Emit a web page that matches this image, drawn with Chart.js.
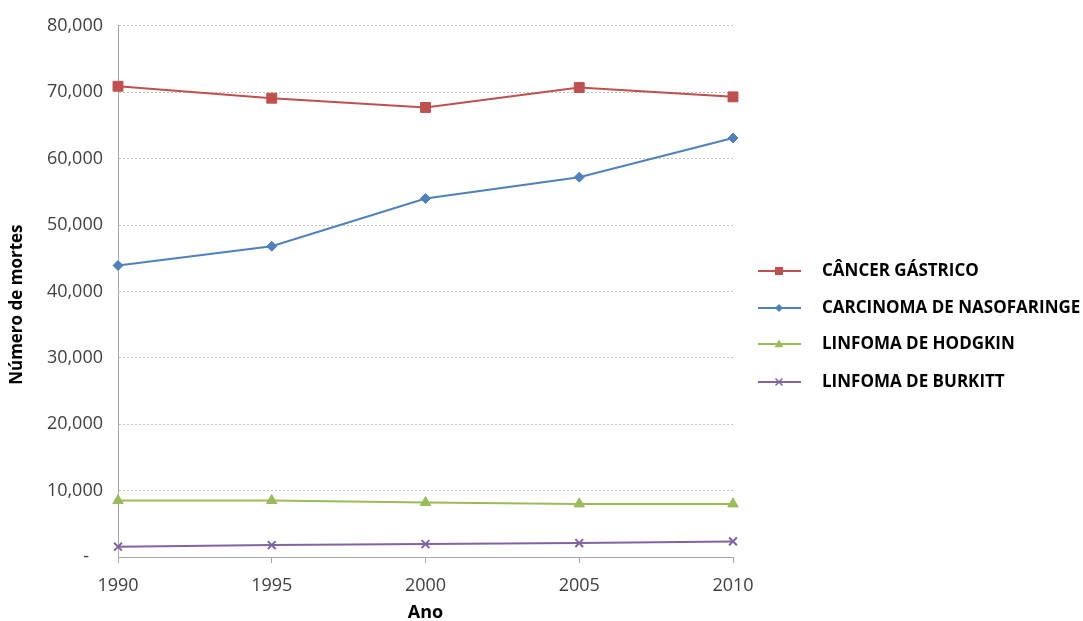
<!DOCTYPE html>
<html>
<head>
<meta charset="utf-8">
<script src="https://cdn.jsdelivr.net/npm/chart.js@4/dist/chart.umd.min.js"></script>
<style>
  html, body { margin: 0; padding: 0; background: #ffffff; }
  #wrap { width: 1083px; height: 621px; position: relative; }
</style>
</head>
<body>
<div id="wrap"><canvas id="chart" width="1083" height="621"></canvas></div>
<script>
// Anos (eixo X)
const anos = ['1990', '1995', '2000', '2005', '2010'];

// Número de mortes por tipo de câncer
const cancerGastrico = [70900, 69100, 67700, 70700, 69300];
const carcinomaNasofaringe = [43900, 46800, 54000, 57200, 63100];
const linfomaHodgkin = [8500, 8500, 8200, 8000, 8000];
const linfomaBurkitt = [1550, 1800, 1950, 2100, 2350];

// Nomes das séries
const nomesSeries = [
  'CÂNCER GÁSTRICO',
  'CARCINOMA DE NASOFARINGE',
  'LINFOMA DE HODGKIN',
  'LINFOMA DE BURKITT'
];

const FONT = '"Open Sans", "DejaVu Sans", sans-serif';

const estilos = [
  { color: '#C0504D', pointStyle: 'rect', radius: 7 },
  { color: '#4F81BD', pointStyle: 'rectRot', radius: 5 },
  { color: '#9BBB59', pointStyle: 'triangle', radius: 6 },
  { color: '#8064A2', pointStyle: 'crossRot', radius: 5.5 }
];

const valores = [cancerGastrico, carcinomaNasofaringe, linfomaHodgkin, linfomaBurkitt];

const datasets = valores.map((v, i) => ({
  label: nomesSeries[i],
  data: v,
  borderColor: estilos[i].color,
  backgroundColor: estilos[i].color,
  borderWidth: 2,
  pointStyle: estilos[i].pointStyle,
  pointRadius: estilos[i].radius,
  pointBorderWidth: estilos[i].pointStyle === 'crossRot' ? 2 : 1,
  pointBorderColor: estilos[i].color,
  pointBackgroundColor: estilos[i].color,
  tension: 0,
  fill: false
}));

// Legenda desenhada à direita: linha com marcador + texto
function desenharMarcador(ctx, estilo, x, y) {
  ctx.save();
  ctx.fillStyle = estilo.color;
  ctx.strokeStyle = estilo.color;
  ctx.lineWidth = 1;
  ctx.beginPath();
  if (estilo.pointStyle === 'rect') {
    const s = 8;
    ctx.rect(x - s / 2, y - s / 2, s, s);
    ctx.fill();
  } else if (estilo.pointStyle === 'rectRot') {
    const s = 4;
    ctx.moveTo(x, y - s); ctx.lineTo(x + s, y); ctx.lineTo(x, y + s); ctx.lineTo(x - s, y);
    ctx.closePath(); ctx.fill();
  } else if (estilo.pointStyle === 'triangle') {
    const s = 4.5;
    ctx.moveTo(x, y - s); ctx.lineTo(x + s, y + s * 0.7); ctx.lineTo(x - s, y + s * 0.7);
    ctx.closePath(); ctx.fill();
  } else {
    const s = 3.5;
    ctx.lineWidth = 1.5;
    ctx.moveTo(x - s, y - s); ctx.lineTo(x + s, y + s);
    ctx.moveTo(x + s, y - s); ctx.lineTo(x - s, y + s);
    ctx.stroke();
  }
  ctx.restore();
}

const legendaLateral = {
  id: 'legendaLateral',
  afterDraw(chart) {
    const ctx = chart.ctx;
    const ys = [271, 308, 344, 382];
    chart.data.datasets.forEach((ds, i) => {
      const y = ys[i];
      ctx.save();
      ctx.strokeStyle = estilos[i].color;
      ctx.lineWidth = 2;
      ctx.beginPath();
      ctx.moveTo(758, y);
      ctx.lineTo(801, y);
      ctx.stroke();
      ctx.restore();
      desenharMarcador(ctx, estilos[i], 779, y);
      ctx.save();
      ctx.fillStyle = '#000000';
      ctx.font = 'bold 17px ' + FONT;
      ctx.textAlign = 'left';
      ctx.textBaseline = 'middle';
      ctx.fillText(ds.label, 822, y);
      ctx.restore();
    });
  }
};

new Chart(document.getElementById('chart'), {
  type: 'line',
  data: { labels: anos, datasets },
  plugins: [legendaLateral],
  options: {
    responsive: false,
    animation: false,
    layout: { padding: { left: 0, top: 24, right: 350, bottom: 0 } },
    plugins: {
      legend: { display: false },
      tooltip: { enabled: false }
    },
    scales: {
      x: {
        type: 'category',
        offset: false,
        grid: {
          drawOnChartArea: false,
          drawTicks: true,
          tickLength: 6,
          color: '#a6a6a6',
          lineWidth: 1
        },
        border: { display: true, color: '#a6a6a6', width: 1 },
        ticks: {
          color: '#404040',
          font: { family: FONT, size: 18 },
          padding: 12,
          maxRotation: 0
        },
        title: {
          display: true,
          text: 'Ano',
          color: '#000000',
          font: { family: FONT, size: 18, weight: 'bold' },
          padding: { top: 0, bottom: -3 }
        },
        afterFit(scale) { scale.height = 64; }
      },
      y: {
        min: 0,
        max: 80000,
        grid: {
          drawTicks: false,
          color: (c) => (c.tick && c.tick.value === 0) ? 'rgba(0,0,0,0)' : '#c4c4c4',
          lineWidth: 1
        },
        border: { display: true, color: '#a6a6a6', width: 1, dash: [2, 2] },
        ticks: {
          stepSize: 10000,
          color: '#404040',
          font: { family: FONT, size: 18 },
          padding: 15,
          callback: (v) => v === 0 ? '-   ' : v.toLocaleString('en-US')
        },
        title: {
          display: true,
          text: 'Número de mortes      ',
          color: '#000000',
          font: { family: FONT, size: 17, weight: 'bold' },
          padding: { top: 7, bottom: 0 }
        },
        afterFit(scale) { scale.width = 118; }
      }
    }
  }
});
</script>
</body>
</html>
